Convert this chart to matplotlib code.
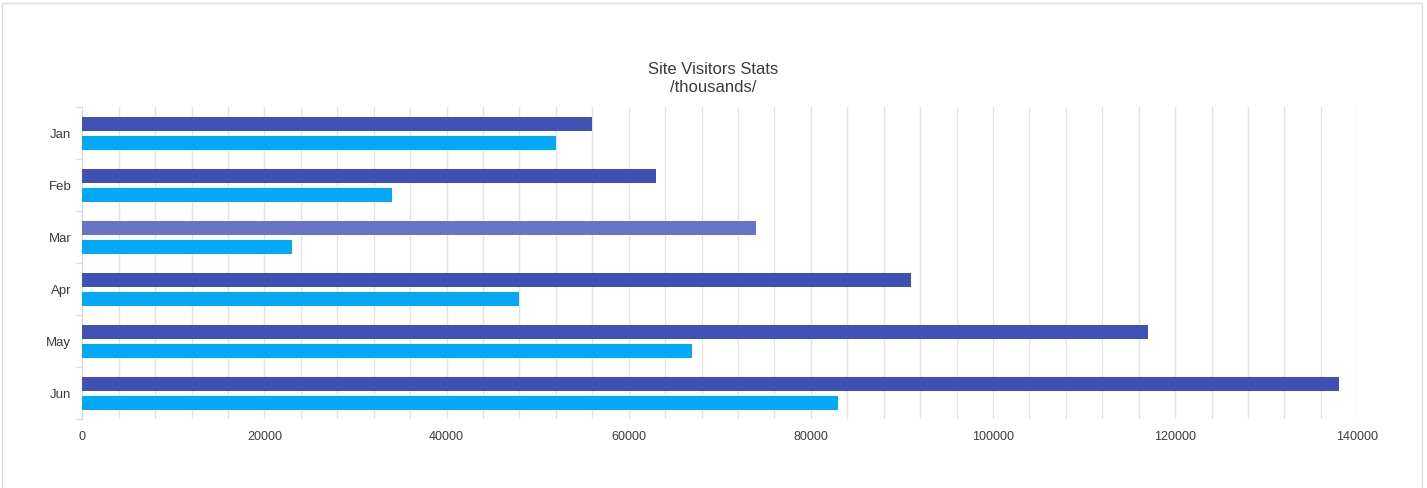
import numpy as np
import matplotlib
matplotlib.use("Agg")
import matplotlib.pyplot as plt
import matplotlib.ticker as mtick
from matplotlib.patches import Rectangle

plt.rcParams["font.family"] = ["Liberation Sans", "DejaVu Sans"]

months = ["Jan", "Feb", "Mar", "Apr", "May", "Jun"]
series_dark = [56000, 63000, 74000, 91000, 117000, 138000]
series_light = [52000, 34000, 23000, 48000, 67000, 83000]

DARK = "#3F51B5"
LIGHT = "#03A9F4"
HOVER = "#6875C6"  # Mar bar of the first series is highlighted
GRID = "#e3e3e3"
TEXT = "#373d3f"

fig = plt.figure(figsize=(14.27, 4.89), dpi=100)

# card border
fig.patches.append(
    Rectangle((2 / 1427, -0.01), 1420 / 1427, 1 - 4 / 489 + 0.01,
              transform=fig.transFigure, facecolor="white",
              edgecolor="#dcdcdc", linewidth=1.0, zorder=-1)
)

ax = fig.add_axes([82.3 / 1427, 1 - 420 / 489, 1275 / 1427, 312 / 489])

y = np.arange(len(months))
h = 14 / 52
off = 9.5 / 52
dark_colors = [HOVER if m == "Mar" else DARK for m in months]
ax.barh(y - off, series_dark, height=h, color=dark_colors, zorder=3)
ax.barh(y + off, series_light, height=h, color=LIGHT, zorder=3)

ax.set_xlim(0, 140000)
ax.set_ylim(len(months) - 0.5, -0.5)

ax.xaxis.set_major_locator(mtick.MultipleLocator(20000))
ax.xaxis.set_minor_locator(mtick.MultipleLocator(4000))
ax.grid(axis="x", which="both", color=GRID, linewidth=1.0, zorder=0)

ax.set_yticks(y)
ax.set_yticklabels(months)
ax.set_yticks(np.arange(len(months) + 1) - 0.5, minor=True)
ax.tick_params(axis="y", which="major", length=0, pad=8, labelsize=9.5, labelcolor=TEXT)
ax.tick_params(axis="y", which="minor", length=4, color="#dddddd", width=1)
ax.tick_params(axis="x", which="both", length=0, pad=8, labelsize=9, labelcolor=TEXT)

for side in ("top", "right", "bottom"):
    ax.spines[side].set_visible(False)
ax.spines["left"].set_color("#d8d8d8")

fig.text(0.5, 1 - 70 / 489, "Site Visitors Stats", ha="center",
         va="center", fontsize=12, color=TEXT)
fig.text(0.5, 1 - 88 / 489, "/thousands/", ha="center",
         va="center", fontsize=12, color=TEXT)

fig.savefig("out.png", dpi=100)
